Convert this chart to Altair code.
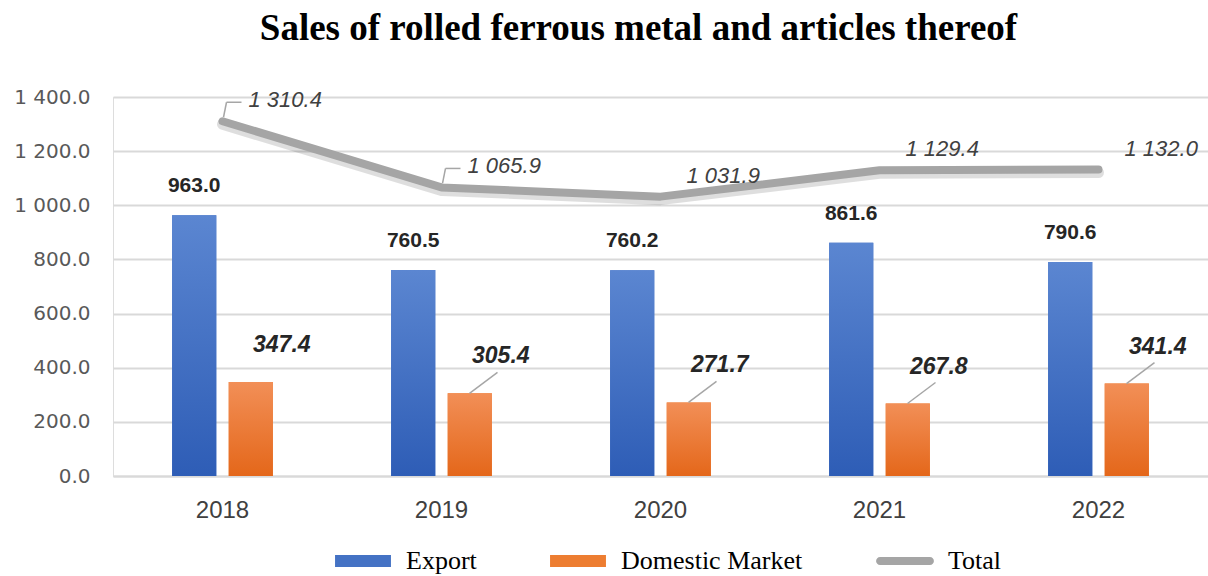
import altair as alt
import pandas as pd

# ---- data ----
years = ["2018", "2019", "2020", "2021", "2022"]
export = [963.0, 760.5, 760.2, 861.6, 790.6]
domestic = [347.4, 305.4, 271.7, 267.8, 341.4]
total = [1310.4, 1065.9, 1031.9, 1129.4, 1132.0]
series_names = ["Export", "Domestic Market", "Total"]
series_colors = ["#4472C4", "#ED7D31", "#A5A5A5"]
y_ticks = [0, 200, 400, 600, 800, 1000, 1200, 1400]
total_leader_years = ["2018", "2019"]
domestic_leader_years = ["2019", "2020", "2021", "2022"]


def fmt(v):
    return f"{v:,.1f}".replace(",", " ")


bars_df = pd.DataFrame({
    "year": years * 2,
    "series": ["Export"] * len(years) + ["Domestic Market"] * len(years),
    "value": export + domestic,
})
bars_df["label"] = bars_df["value"].map(fmt)
total_df = pd.DataFrame({"year": years, "value": total, "label": [fmt(v) for v in total]})

# ---- shared encodings ----
x_enc = alt.X(
    "year:N",
    sort=years,
    scale=alt.Scale(paddingInner=0.54, paddingOuter=0.27),
    axis=alt.Axis(
        title=None, labelAngle=0, ticks=False, grid=False,
        domainColor="#D9D9D9", domainWidth=2,
        labelFont="Liberation Sans", labelFontSize=24, labelColor="#404040",
        labelPadding=22,
    ),
)
y_enc = alt.Y(
    "value:Q",
    scale=alt.Scale(domain=[0, 1400], nice=False),
    axis=alt.Axis(
        values=y_ticks, title=None, domain=False, ticks=False,
        gridColor="#D9D9D9", gridWidth=2,
        labelExpr="replace(format(datum.value, ',.1f'), ',', ' ')",
        labelFont="DejaVu Sans", labelFontSize=20, labelColor="#595959",
        labelPadding=23,
    ),
)
xoff_enc = alt.XOffset(
    "series:N",
    scale=alt.Scale(domain=["Export", "Domestic Market"], paddingInner=0.22, paddingOuter=0),
)

# legend symbol shapes (unit = 12 px with symbolSize 576)
rect_path = "M-2.33,-0.5H2.33V0.5H-2.33Z"
line_path = "M-2.08,-0.33H2.08A0.33,0.33 0 0 1 2.08,0.33H-2.08A0.33,0.33 0 0 1 -2.08,-0.33Z"

legend = alt.Legend(
    orient="none", legendX=237, legendY=451, direction="horizontal", title=None,
    symbolType=alt.ExprRef(expr=f"datum.value === 'Total' ? '{line_path}' : '{rect_path}'"),
    symbolSize=576, symbolStrokeWidth=0, symbolOpacity=1,
    labelFont="Liberation Serif", labelFontSize=26, labelColor="black", labelLimit=400,
    labelOffset=30, columnPadding=73,
)

base_bars = alt.Chart(bars_df).mark_bar().encode(
    x=x_enc, y=y_enc, xOffset=xoff_enc,
    color=alt.Color("series:N", scale=alt.Scale(domain=series_names, range=series_colors), legend=legend),
)

blue_grad = alt.Gradient(
    gradient="linear", x1=0, x2=0, y1=0, y2=1,
    stops=[alt.GradientStop(color="#5B86D1", offset=0), alt.GradientStop(color="#2E5DB6", offset=1)],
)
orange_grad = alt.Gradient(
    gradient="linear", x1=0, x2=0, y1=0, y2=1,
    stops=[alt.GradientStop(color="#F28F57", offset=0), alt.GradientStop(color="#E4671A", offset=1)],
)

export_bars = alt.Chart(bars_df).transform_filter("datum.series === 'Export'").mark_bar(
    fill=blue_grad).encode(x=x_enc, y=y_enc, xOffset=xoff_enc)
dom_bars = alt.Chart(bars_df).transform_filter("datum.series === 'Domestic Market'").mark_bar(
    fill=orange_grad).encode(x=x_enc, y=y_enc, xOffset=xoff_enc)

export_labels = alt.Chart(bars_df).transform_filter("datum.series === 'Export'").mark_text(
    font="Liberation Sans", fontWeight="bold", fontSize=21, color="#262626",
    baseline="middle", dy=-29,
).encode(x=x_enc, y=y_enc, xOffset=xoff_enc, text="label:N")

dom_labels = alt.Chart(bars_df).transform_filter("datum.series === 'Domestic Market'").mark_text(
    font="Liberation Sans", fontWeight="bold", fontStyle="italic", fontSize=23, color="#262626",
    baseline="middle", dx=31, dy=-37,
).encode(x=x_enc, y=y_enc, xOffset=xoff_enc, text="label:N")

dom_leaders = alt.Chart(bars_df).transform_filter(
    alt.FieldOneOfPredicate(field="year", oneOf=domestic_leader_years)
).transform_filter("datum.series === 'Domestic Market'").mark_rule(
    color="#A6A6A6", strokeWidth=1.5, xOffset=28, x2Offset=56, y2Offset=-21,
).encode(x=x_enc, x2="year:N", y=y_enc, y2="value:Q")

line_shadow = alt.Chart(total_df).mark_line(
    color="#000000", opacity=0.13, strokeWidth=11, strokeCap="round", strokeJoin="round", yOffset=3,
).encode(x=x_enc, y=y_enc)
total_line = alt.Chart(total_df).mark_line(
    color="#A5A5A5", strokeWidth=8, strokeCap="round", strokeJoin="round",
).encode(x=x_enc, y=y_enc)

tot_lead_v = alt.Chart(total_df).transform_filter(
    alt.FieldOneOfPredicate(field="year", oneOf=total_leader_years)
).mark_rule(color="#A6A6A6", strokeWidth=1.5, xOffset=1, x2Offset=4, yOffset=-4, y2Offset=-19).encode(
    x=x_enc, x2="year:N", y=y_enc, y2="value:Q")
tot_lead_h = alt.Chart(total_df).transform_filter(
    alt.FieldOneOfPredicate(field="year", oneOf=total_leader_years)
).mark_rule(color="#A6A6A6", strokeWidth=1.5, xOffset=4, x2Offset=19, yOffset=-19, y2Offset=-19).encode(
    x=x_enc, x2="year:N", y=y_enc, y2="value:Q")

total_labels = alt.Chart(total_df).mark_text(
    font="Liberation Sans", fontStyle="italic", fontSize=22, color="#404040",
    align="left", baseline="middle", dx=26, dy=-21,
).encode(x=x_enc, y=y_enc, text="label:N")

chart = alt.layer(
    base_bars, export_bars, dom_bars, export_labels, dom_leaders, dom_labels,
    line_shadow, total_line, tot_lead_v, tot_lead_h, total_labels,
).properties(
    width=1095, height=379,
    padding={"left": 113, "top": 97, "right": 0, "bottom": 100},
    autosize=alt.AutoSizeParams(type="none"),
    title=alt.Title(
        "Sales of rolled ferrous metal and articles thereof",
        font="Liberation Serif", fontSize=37, fontWeight="bold", color="black",
        anchor="middle", frame="group", baseline="alphabetic", offset=10, dx=-22,
    ),
).configure_view(stroke=None).configure(background="white")

chart.save("out.html", embed_options={"renderer": "svg", "actions": False})
